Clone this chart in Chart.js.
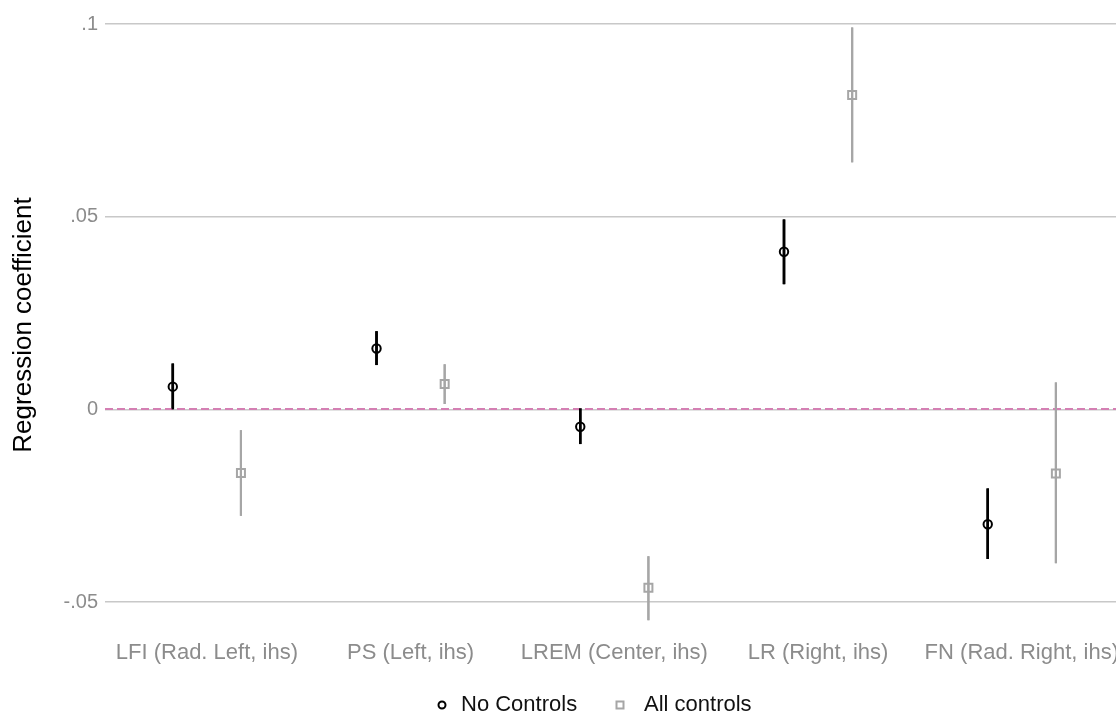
<!DOCTYPE html>
<html>
<head>
<meta charset="utf-8">
<script src="https://cdn.jsdelivr.net/npm/chart.js@4/dist/chart.umd.min.js"></script>
<style>
  html, body { margin: 0; padding: 0; background: #fff; overflow: hidden; }
  #wrap { width: 1128px; height: 715px; }
</style>
</head>
<body>
<div id="wrap"><canvas id="c" width="1128" height="715"></canvas></div>
<script>
const categories = ['LFI (Rad. Left, ihs)', 'PS (Left, ihs)', 'LREM (Center, ihs)', 'LR (Right, ihs)', 'FN (Rad. Right, ihs)'];
const seriesNames = ['No Controls', 'All controls'];
const noCtrlEst = [0.0059, 0.0158, -0.0045, 0.0409, -0.0298];
const noCtrlLo  = [0.0000, 0.0115, -0.0090, 0.0325, -0.0388];
const noCtrlHi  = [0.0119, 0.0203, 0.0003, 0.0493, -0.0205];
const allCtrlEst = [-0.0165, 0.0066, -0.0463, 0.0816, -0.0166];
const allCtrlLo  = [-0.0276, 0.0014, -0.0547, 0.0641, -0.0399];
const allCtrlHi  = [-0.0054, 0.0117, -0.0381, 0.0991, 0.0070];
const yTicks = [-0.05, 0, 0.05, 0.1];
const yTickLabels = ['-.05', '0', '.05', '.1'];

const FONT = '"Liberation Sans", Arial, Helvetica, sans-serif';
const BLACK = '#000000';
const GREY = '#a6a6a6';

const ranges = (lo, hi) => lo.map((v, i) => [v, hi[i]]);

const markerPlugin = {
  id: 'markers',
  afterDatasetsDraw(chart) {
    const {ctx, chartArea, scales: {y}} = chart;
    const y0 = Math.round(y.getPixelForValue(0));
    ctx.save();
    ctx.strokeStyle = '#d47fb3';
    ctx.lineWidth = 2;
    ctx.setLineDash([8, 4]);
    ctx.beginPath();
    ctx.moveTo(chartArea.left, y0);
    ctx.lineTo(chartArea.right, y0);
    ctx.stroke();
    ctx.restore();

    const ests = [noCtrlEst, allCtrlEst];
    chart.data.datasets.forEach((ds, di) => {
      const meta = chart.getDatasetMeta(di);
      meta.data.forEach((el, i) => {
        const px = el.x;
        const py = y.getPixelForValue(ests[di][i]);
        ctx.save();
        ctx.lineWidth = 2;
        ctx.strokeStyle = di === 0 ? BLACK : GREY;
        ctx.fillStyle = di === 0 ? BLACK : GREY;
        // redraw whisker on top of the zero line
        const lo = y.getPixelForValue((di === 0 ? noCtrlLo : allCtrlLo)[i]);
        const hi = y.getPixelForValue((di === 0 ? noCtrlHi : allCtrlHi)[i]);
        ctx.fillRect(px - el.width / 2, hi, el.width, lo - hi);
        ctx.beginPath();
        if (di === 0) {
          ctx.arc(px, py, 4.2, 0, Math.PI * 2);
        } else {
          ctx.rect(px - 4, py - 4, 8, 8);
        }
        ctx.stroke();
        ctx.restore();
      });
    });
  },
  afterDraw(chart) {
    const {ctx} = chart;
    const ly = 705;
    ctx.save();
    ctx.font = '22px ' + FONT;
    ctx.textBaseline = 'middle';
    ctx.fillStyle = '#111';
    ctx.lineWidth = 2;
    ctx.strokeStyle = BLACK;
    ctx.beginPath();
    ctx.arc(442, ly, 3.5, 0, Math.PI * 2);
    ctx.stroke();
    ctx.fillText(seriesNames[0], 461, ly);
    ctx.strokeStyle = GREY;
    ctx.beginPath();
    ctx.rect(616.5, ly - 3.5, 7, 7);
    ctx.stroke();
    ctx.fillText(seriesNames[1], 644, ly);
    ctx.restore();
  }
};

new Chart(document.getElementById('c'), {
  type: 'bar',
  data: {
    labels: categories,
    datasets: [
      { label: seriesNames[0], data: ranges(noCtrlLo, noCtrlHi), backgroundColor: BLACK, borderWidth: 0, barPercentage: 0.037 },
      { label: seriesNames[1], data: ranges(allCtrlLo, allCtrlHi), backgroundColor: GREY, borderWidth: 0, barPercentage: 0.031 }
    ]
  },
  options: {
    responsive: false,
    animation: false,
    events: [],
    categoryPercentage: 0.669,
    layout: { padding: { top: 14, left: 0, right: 0, bottom: 24 } },
    plugins: {
      legend: { display: false },
      tooltip: { enabled: false }
    },
    scales: {
      x: {
        grid: { display: false, drawTicks: false },
        border: { display: false },
        ticks: { color: '#8c8c8c', font: { family: FONT, size: 22 }, padding: 9, maxRotation: 0, autoSkip: false },
        afterFit(s) { s.height = 60; }
      },
      y: {
        min: -0.0575,
        max: 0.1013,
        grid: { color: '#c8c8c8', lineWidth: 1.5, drawTicks: false },
        border: { display: false },
        ticks: {
          color: '#8c8c8c',
          font: { family: FONT, size: 20 },
          padding: 7,
          callback(v) {
            const idx = yTicks.findIndex(t => Math.abs(t - v) < 1e-9);
            return idx >= 0 ? yTickLabels[idx] : '';
          }
        },
        afterBuildTicks(s) { s.ticks = yTicks.map(v => ({ value: v })); },
        afterFit(s) { s.width = 105; },
        title: {
          display: true,
          text: 'Regression coefficient',
          color: '#000',
          font: { family: FONT, size: 26 },
          padding: { top: 8, bottom: 0 }
        }
      }
    }
  },
  plugins: [markerPlugin]
});
</script>
</body>
</html>
